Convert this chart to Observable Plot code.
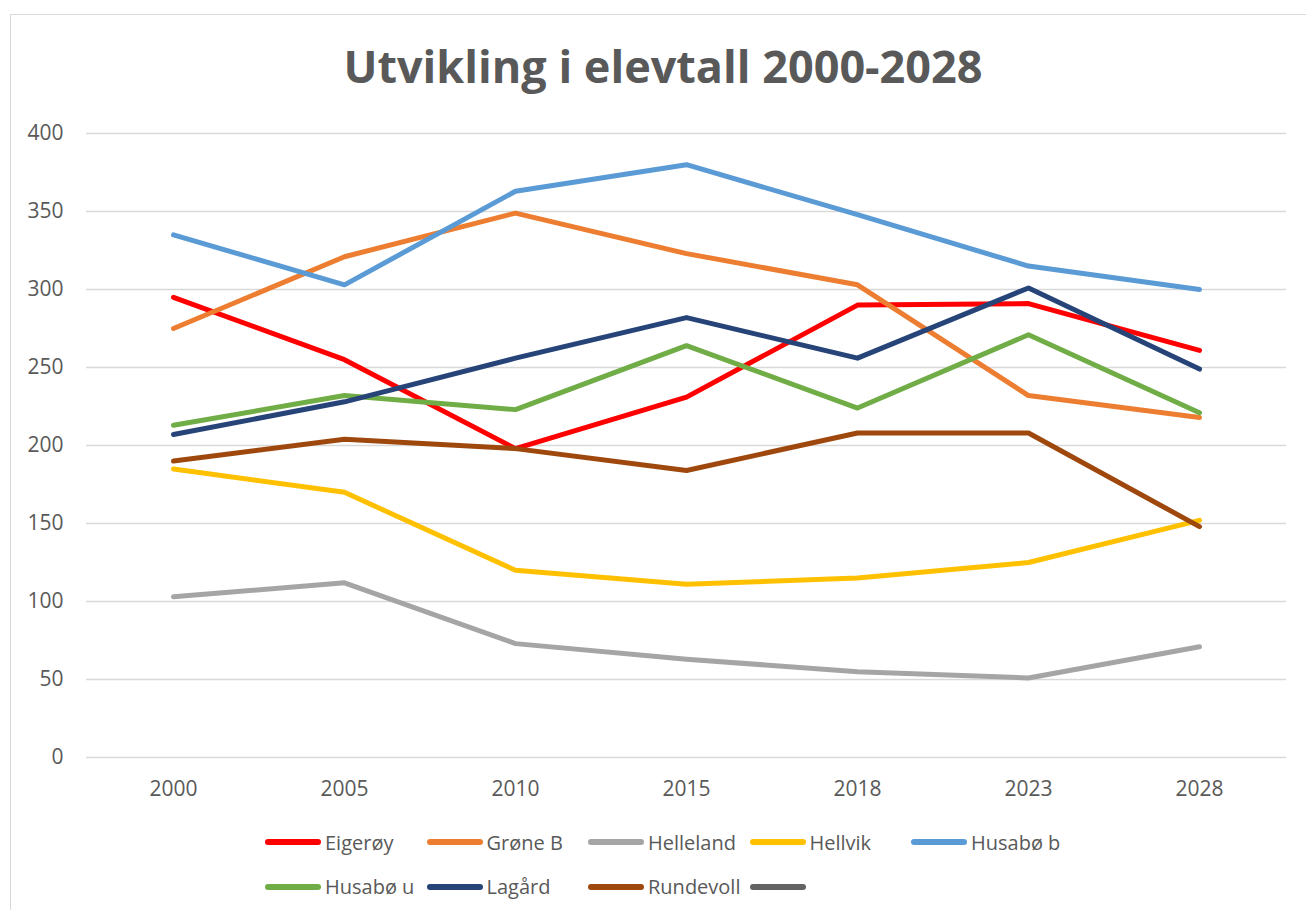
<!DOCTYPE html>
<html>
<head>
<meta charset="utf-8">
<script src="https://cdn.jsdelivr.net/npm/d3@7"></script>
<script src="https://cdn.jsdelivr.net/npm/@observablehq/plot@0.6"></script>
<style>
  html, body { margin: 0; padding: 0; background: #fff; }
  body { width: 1306px; height: 910px; position: relative; overflow: hidden; font-family: "Open Sans", Lato, sans-serif; }
  #frame { position: absolute; left: 10px; top: 14px; width: 1310px; height: 910px; border: 1.5px solid #d9d9d9; box-sizing: border-box; }
  #title { position: absolute; left: 0; width: 1326px; top: 35px; text-align: center; font-size: 45px; font-weight: bold; color: #595959; white-space: nowrap; }
  #chart { position: absolute; left: 0; top: 110px; }
  #legend { position: absolute; left: 0; top: 0; }
  .item { position: absolute; display: flex; align-items: center; height: 30px; font-size: 20px; color: #595959; white-space: nowrap; }
  .sw { width: 56px; height: 5.7px; border-radius: 3px; margin-right: 4px; flex: none; }
</style>
</head>
<body>
<div id="frame"></div>
<div id="title">Utvikling i elevtall 2000-2028</div>
<div id="chart"></div>
<div id="legend"></div>
<script>
const years = ["2000", "2005", "2010", "2015", "2018", "2023", "2028"];
const schools = ["Eigerøy", "Grøne B", "Helleland", "Hellvik", "Husabø b", "Husabø u", "Lagård", "Rundevoll"];
const colors = ["#FF0000", "#ED7D31", "#A5A5A5", "#FFC000", "#5B9BD5", "#70AD47", "#264478", "#9E480E"];
const legendNames = ["Eigerøy", "Grøne B", "Helleland", "Hellvik", "Husabø b", "Husabø u", "Lagård", "Rundevoll", ""];
const legendColors = ["#FF0000", "#ED7D31", "#A5A5A5", "#FFC000", "#5B9BD5", "#70AD47", "#264478", "#9E480E", "#636363"];

const eigeroy   = [295, 255, 198, 231, 290, 291, 261];
const groneB    = [275, 321, 349, 323, 303, 232, 218];
const helleland = [103, 112, 73, 63, 55, 51, 71];
const hellvik   = [185, 170, 120, 111, 115, 125, 152];
const husaboB   = [335, 303, 363, 380, 348, 315, 300];
const husaboU   = [213, 232, 223, 264, 224, 271, 221];
const lagard    = [207, 228, 256, 282, 256, 301, 249];
const rundevoll = [190, 204, 198, 184, 208, 208, 148];
const yTicks = [0, 50, 100, 150, 200, 250, 300, 350, 400];

const series = [eigeroy, groneB, helleland, hellvik, husaboB, husaboU, lagard, rundevoll];
const data = schools.flatMap((s, i) => years.map((y, j) => ({school: s, year: y, value: series[i][j]})));

const plot = Plot.plot({
  width: 1306,
  height: 700,
  marginTop: 23,
  marginBottom: 53,
  marginLeft: 86,
  marginRight: 20,
  style: {fontFamily: "'Open Sans', Lato, sans-serif", fontSize: "21px", color: "#595959", background: "transparent"},
  x: {type: "point", domain: years, label: null},
  y: {domain: [0, 400], ticks: yTicks, label: null},
  color: {domain: schools, range: colors},
  marks: [
    Plot.gridY(yTicks, {stroke: "#d9d9d9", strokeOpacity: 1, strokeWidth: 1.5}),
    Plot.axisY(yTicks, {tickSize: 0, tickPadding: 23, label: null, fill: "#595959"}),
    Plot.axisX(years, {tickSize: 0, tickPadding: 24, label: null, fill: "#595959"}),
    Plot.line(data, {x: "year", y: "value", z: "school", stroke: "school", strokeWidth: 5, strokeLinecap: "round", strokeLinejoin: "round"})
  ]
});
document.getElementById("chart").appendChild(plot);

const legend = document.getElementById("legend");
legendNames.forEach((n, i) => {
  const col = i % 5, row = Math.floor(i / 5);
  const it = document.createElement("div");
  it.className = "item";
  it.style.left = (265 + col * 161.5) + "px";
  it.style.top = (842 + row * 44.7 - 15) + "px";
  const sw = document.createElement("span");
  sw.className = "sw";
  sw.style.background = legendColors[i];
  it.appendChild(sw);
  const t = document.createElement("span");
  t.textContent = n;
  it.appendChild(t);
  legend.appendChild(it);
});
</script>
</body>
</html>
